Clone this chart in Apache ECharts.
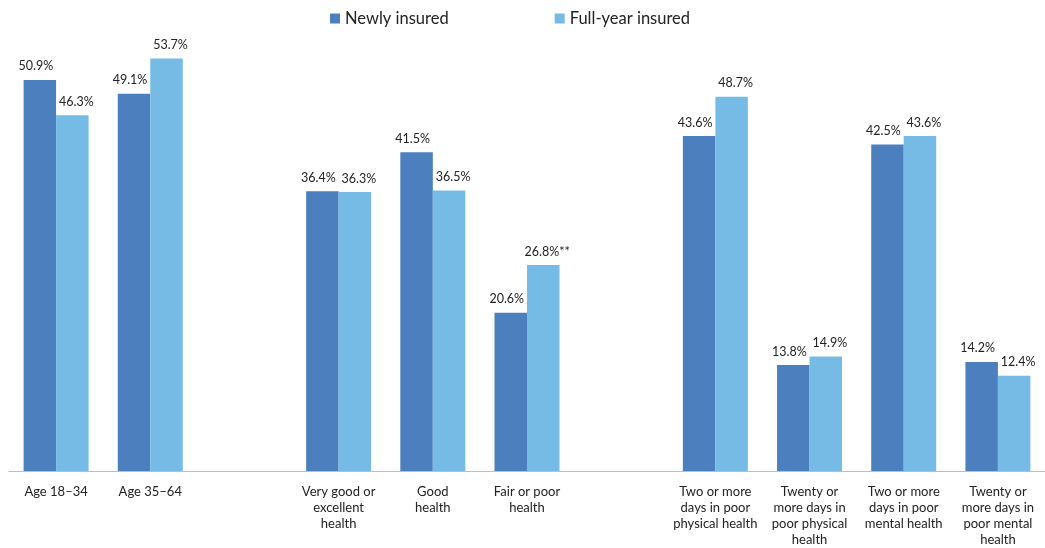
<!DOCTYPE html>
<html>
<head>
<meta charset="utf-8">
<script src="https://cdn.jsdelivr.net/npm/echarts@6/dist/echarts.min.js"></script>
<style>html,body{margin:0;padding:0;background:#fff;}#c{width:1045px;height:548px;}</style>
</head>
<body>
<div id="c"></div>
<script>
const categories = [
  'Age 18–34', 'Age 35–64', '',
  'Very good or\nexcellent\nhealth', 'Good\nhealth', 'Fair or poor\nhealth', '',
  'Two or more\ndays in poor\nphysical health', 'Twenty or\nmore days in\npoor physical\nhealth',
  'Two or more\ndays in poor\nmental health', 'Twenty or\nmore days in\npoor mental\nhealth'
];
const newlyInsured = [50.9, 49.1, null, 36.4, 41.5, 20.6, null, 43.6, 13.8, 42.5, 14.2];
const fullYearInsured = [46.3, 53.7, null, 36.3, 36.5, 26.8, null, 48.7, 14.9, 43.6, 12.4];
const fullYearSuffix = ['', '', '', '', '', '**', '', '', '', '', ''];
const seriesNames = ['Newly insured', 'Full-year insured'];

const FONT = 'Lato, "DejaVu Sans", sans-serif';
const chart = echarts.init(document.getElementById('c'));
chart.setOption({
  animation: false,
  textStyle: { fontFamily: FONT },
  legend: {
    top: 5, left: 325, itemWidth: 10, itemHeight: 10, itemGap: 106,
    icon: 'rect',
    textStyle: { fontSize: 16.5, color: '#222', fontFamily: FONT }
  },
  grid: { left: 9, right: 0, top: 10, bottom: 77, containLabel: false },
  xAxis: {
    type: 'category', data: categories,
    axisLine: { lineStyle: { color: '#bdbdbd', width: 1 } },
    axisTick: { show: false },
    axisLabel: { interval: 0, fontSize: 13, color: '#222', lineHeight: 16, margin: 13, fontFamily: FONT }
  },
  yAxis: { type: 'value', min: 0, max: 60, show: false, splitLine: { show: false } },
  series: [
    {
      name: seriesNames[0], type: 'bar', data: newlyInsured,
      barGap: '0%', barCategoryGap: '31%',
      itemStyle: { color: '#4b7fbd' },
      label: { show: true, position: 'top', distance: 7, offset: [-4, 0], fontSize: 12.5, color: '#222', fontFamily: FONT,
        formatter: p => p.value.toFixed(1) + '%' }
    },
    {
      name: seriesNames[1], type: 'bar', data: fullYearInsured,
      barGap: '0%', barCategoryGap: '31%',
      itemStyle: { color: '#76bbe6' },
      label: { show: true, position: 'top', distance: 7, offset: [4, 0], fontSize: 12.5, color: '#222', fontFamily: FONT,
        formatter: p => p.value.toFixed(1) + '%' + fullYearSuffix[p.dataIndex] }
    }
  ]
});
</script>
</body>
</html>
